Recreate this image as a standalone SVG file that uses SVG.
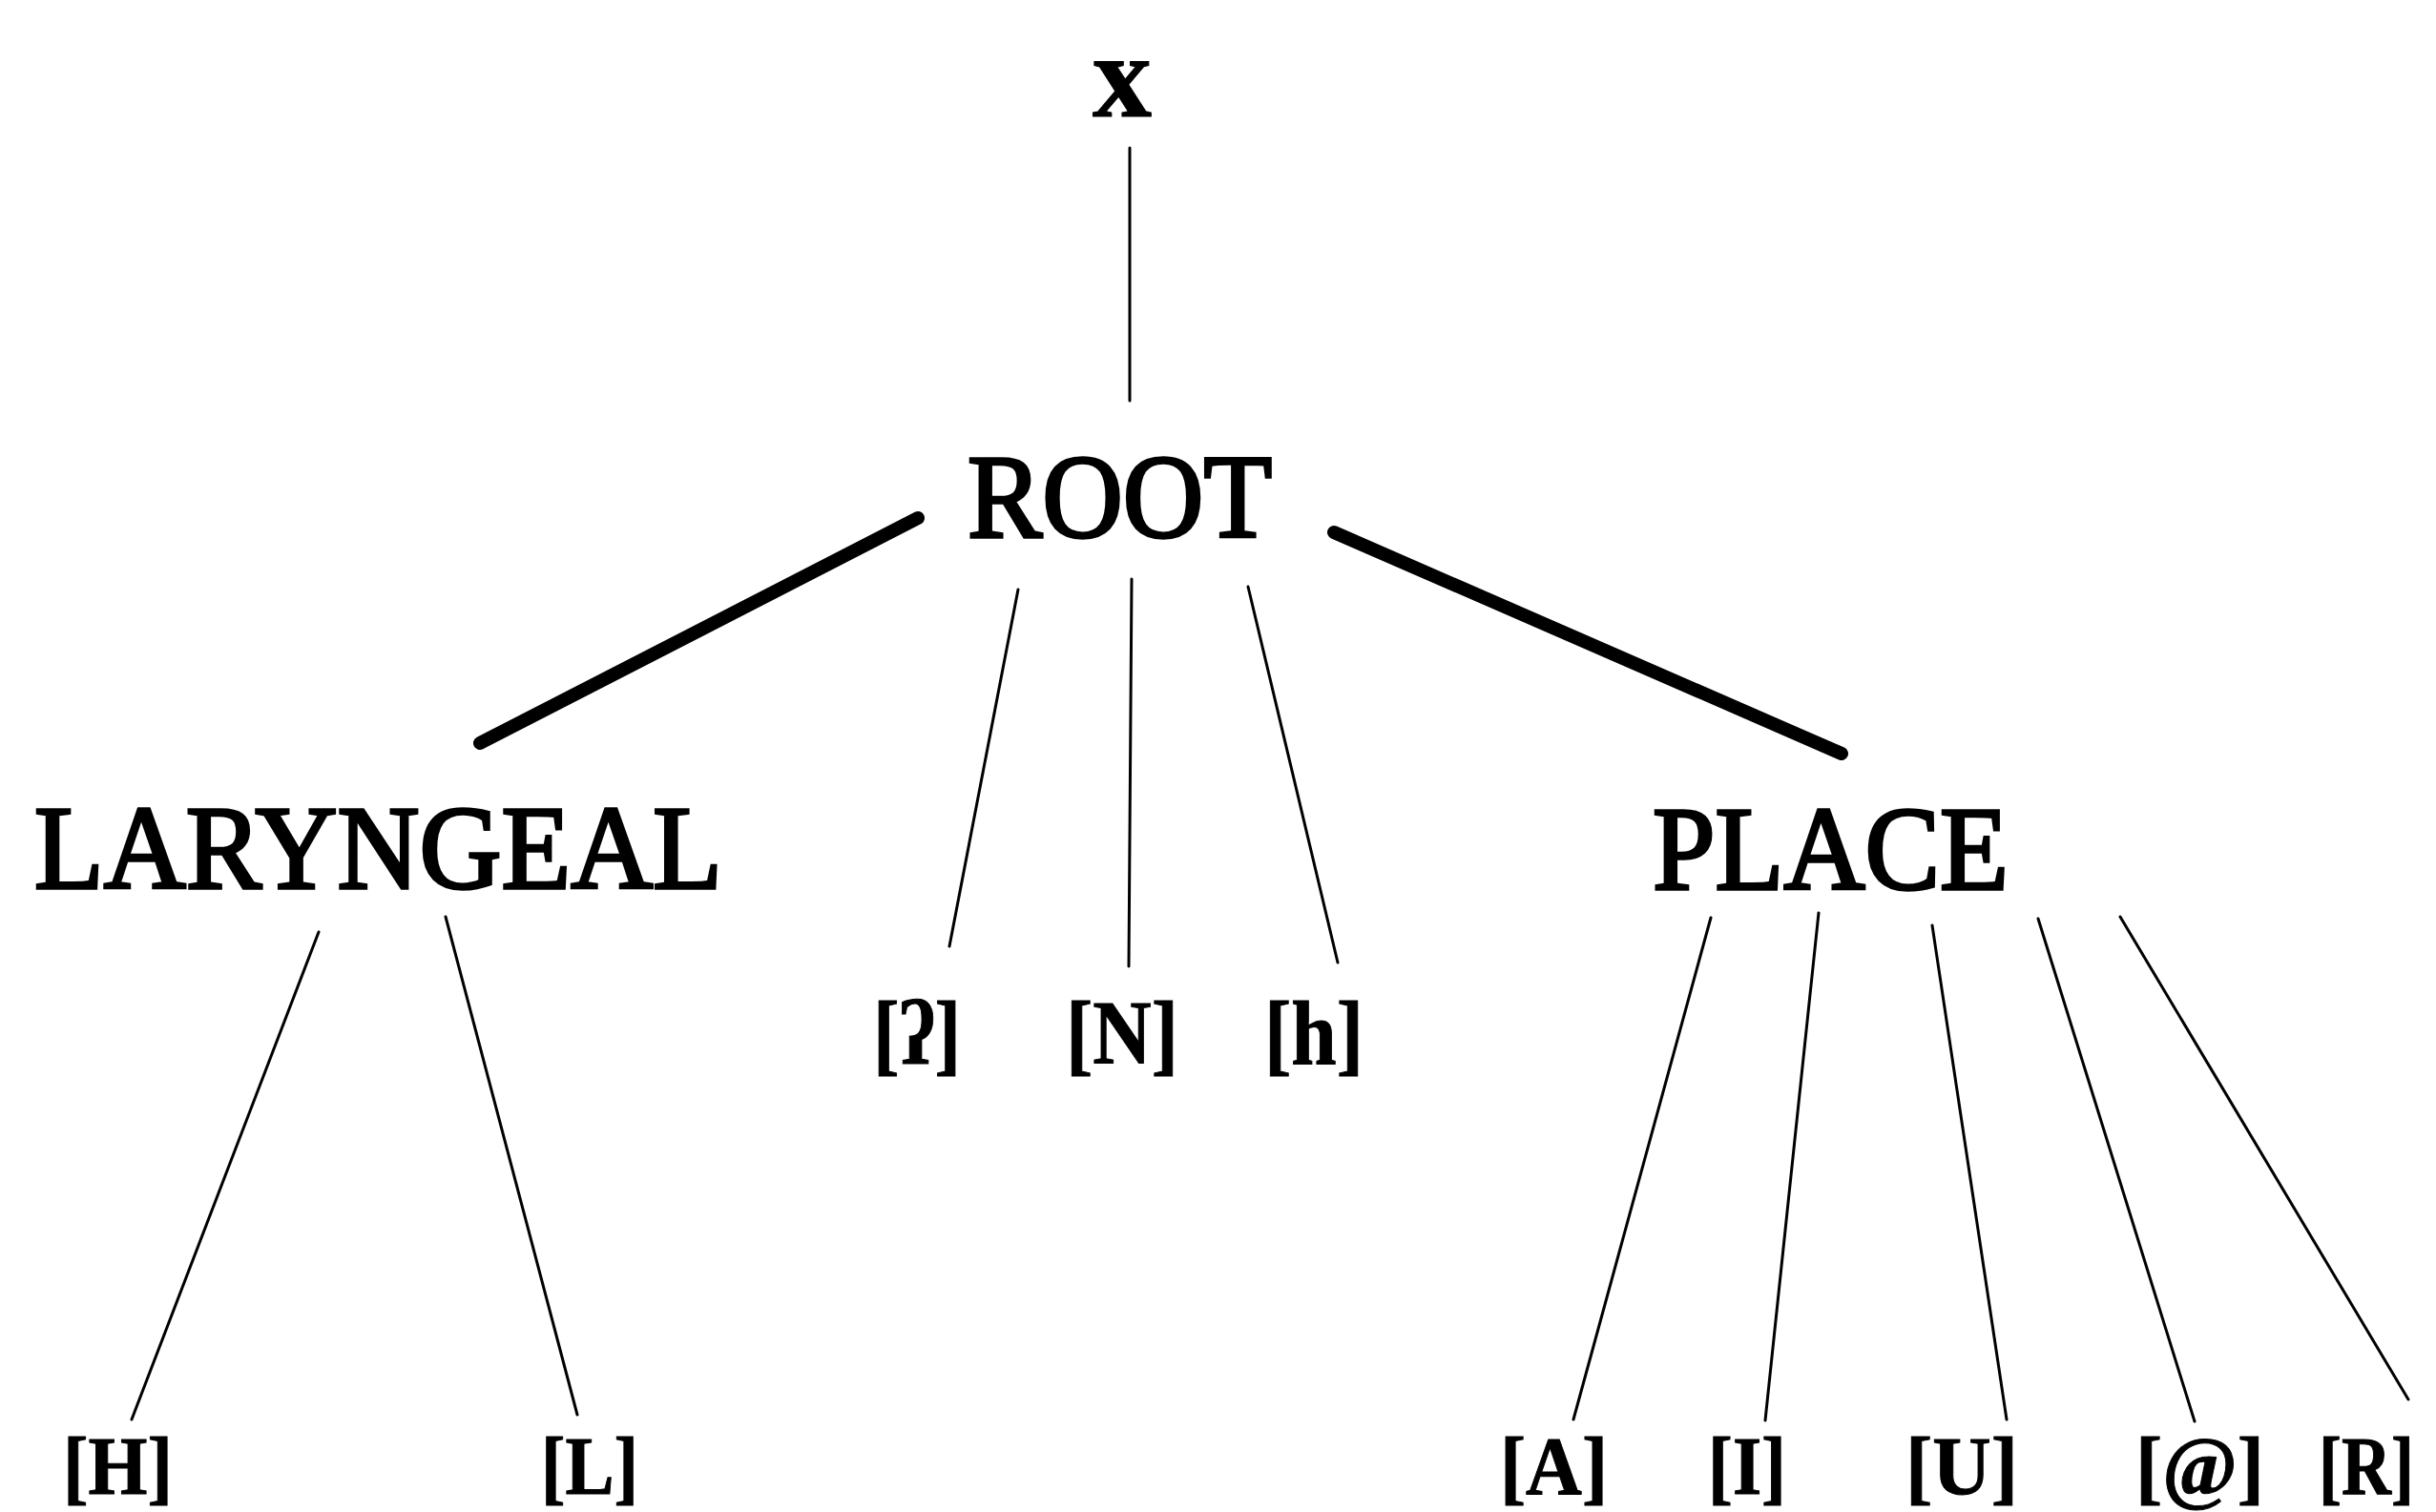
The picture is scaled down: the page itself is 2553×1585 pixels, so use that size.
<svg xmlns="http://www.w3.org/2000/svg" width="2553" height="1585" viewBox="0 0 2553 1585">
<style>
.t{font-family:"Liberation Serif","DejaVu Serif","Times New Roman",serif;fill:#000;stroke:#000}
.big{font-size:124px;stroke-width:3.5}
.mid{font-size:96px;font-weight:bold;stroke-width:1}
.sm{font-size:86px;font-weight:bold;stroke-width:1}
.thin{stroke:#000;stroke-width:3;fill:none;stroke-linecap:round}
.thick{stroke:#000;stroke-width:14;fill:none;stroke-linecap:round}
</style>
<rect width="2553" height="1585" fill="#fff"/>
<g id="connectors">
<line class="thin" x1="1184" y1="155" x2="1184" y2="420"/>
<line class="thick" x1="962" y1="543" x2="503" y2="779"/>
<line class="thick" x1="1398" y1="558" x2="1930" y2="790"/>
<line class="thin" x1="1067" y1="618" x2="995" y2="992"/>
<line class="thin" x1="1186" y1="607" x2="1183" y2="1013"/>
<line class="thin" x1="1308" y1="615" x2="1402" y2="1009"/>
<line class="thin" x1="334" y1="977" x2="138" y2="1488"/>
<line class="thin" x1="467" y1="961" x2="605" y2="1483"/>
<line class="thin" x1="1793" y1="962" x2="1649" y2="1488"/>
<line class="thin" x1="1906" y1="957" x2="1850" y2="1489"/>
<line class="thin" x1="2025" y1="970" x2="2103" y2="1488"/>
<line class="thin" x1="2136" y1="963" x2="2300" y2="1490"/>
<line class="thin" x1="2222" y1="961" x2="2524" y2="1467"/>
</g>
<g id="node-x"><text class="t" x="1145" y="122" font-size="125" font-weight="bold" stroke-width="1" textLength="62" lengthAdjust="spacingAndGlyphs">x</text></g>
<g id="node-root"><text class="t big" x="1014" y="563" textLength="319" lengthAdjust="spacingAndGlyphs">ROOT</text></g>
<g id="node-laryngeal"><text class="t big" x="36" y="931" textLength="721" lengthAdjust="spacingAndGlyphs">LARYNGEAL</text></g>
<g id="node-place"><text class="t big" x="1732" y="932" textLength="373" lengthAdjust="spacingAndGlyphs">PLACE</text></g>
<g id="node-glottal"><text class="t mid" x="915" y="1115" textLength="92" lengthAdjust="spacingAndGlyphs">[ʔ]</text></g>
<g id="node-N"><text class="t mid" x="1117" y="1115" textLength="118" lengthAdjust="spacingAndGlyphs">[N]</text></g>
<g id="node-h"><text class="t mid" x="1325" y="1115" textLength="104" lengthAdjust="spacingAndGlyphs">[h]</text></g>
<g id="node-H"><text class="t sm" x="66" y="1566" textLength="115" lengthAdjust="spacingAndGlyphs">[H]</text></g>
<g id="node-L"><text class="t sm" x="567" y="1566" textLength="102" lengthAdjust="spacingAndGlyphs">[L]</text></g>
<g id="node-A"><text class="t sm" x="1572" y="1566" textLength="113" lengthAdjust="spacingAndGlyphs">[A]</text></g>
<g id="node-I"><text class="t sm" x="1790" y="1566" textLength="82" lengthAdjust="spacingAndGlyphs">[I]</text></g>
<g id="node-U"><text class="t sm" x="1997" y="1566" textLength="118" lengthAdjust="spacingAndGlyphs">[U]</text></g>
<g id="node-at"><text class="t sm" x="2238" y="1566" textLength="135" lengthAdjust="spacingAndGlyphs">[@]</text></g>
<g id="node-R"><text class="t sm" x="2430" y="1566" textLength="100" lengthAdjust="spacingAndGlyphs">[R]</text></g>
</svg>
